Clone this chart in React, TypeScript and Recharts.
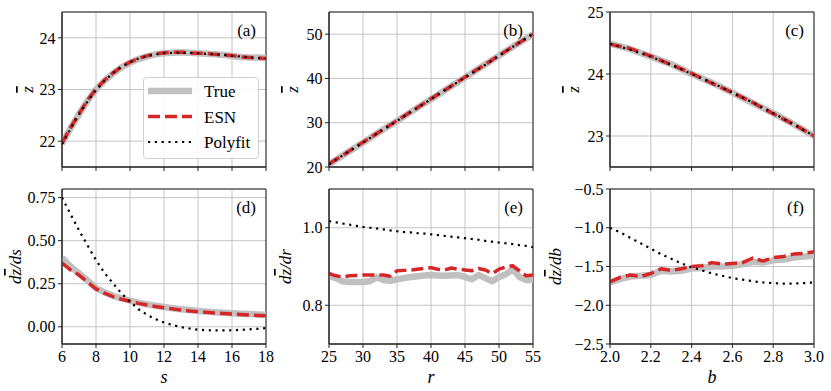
import { CartesianGrid, Legend, Line, LineChart, ReferenceArea, XAxis, YAxis } from 'recharts';

// x values of each parameter sweep
const S_VALUES = [6, 6.5, 7, 7.5, 8, 8.5, 9, 9.5, 10, 10.5, 11, 11.5, 12, 12.5, 13, 13.5, 14, 14.5, 15, 15.5, 16, 16.5, 17, 17.5, 18];
const R_COARSE = [25, 27.5, 30, 32.5, 35, 37.5, 40, 42.5, 45, 47.5, 50, 52.5, 55];
const B_COARSE = [2.0, 2.1, 2.2, 2.3, 2.4, 2.5, 2.6, 2.7, 2.8, 2.9, 3.0];
const R_FINE = [25, 26, 27, 28, 29, 30, 31, 32, 33, 34, 35, 36, 37, 38, 39, 40, 41, 42, 43, 44, 45, 46, 47, 48, 49, 50, 51, 52, 53, 54, 55];
const B_FINE = [2.0, 2.05, 2.1, 2.15, 2.2, 2.25, 2.3, 2.35, 2.4, 2.45, 2.5, 2.55, 2.6, 2.65, 2.7, 2.75, 2.8, 2.85, 2.9, 2.95, 3.0];

// (a) mean z vs s
const A_TRUE = [21.95, 22.25, 22.52, 22.78, 23.0, 23.17, 23.31, 23.43, 23.52, 23.59, 23.64, 23.68, 23.7, 23.71, 23.72, 23.71, 23.7, 23.69, 23.68, 23.67, 23.65, 23.63, 23.62, 23.62, 23.61];
const A_ESN = [21.96, 22.26, 22.53, 22.79, 23.01, 23.18, 23.32, 23.44, 23.53, 23.6, 23.65, 23.69, 23.71, 23.72, 23.72, 23.71, 23.7, 23.7, 23.68, 23.67, 23.66, 23.63, 23.62, 23.61, 23.6];
const A_POLY = [21.94, 22.24, 22.52, 22.77, 22.99, 23.17, 23.32, 23.44, 23.53, 23.6, 23.65, 23.68, 23.7, 23.71, 23.71, 23.71, 23.7, 23.69, 23.68, 23.67, 23.65, 23.64, 23.62, 23.61, 23.6];

// (b) mean z vs r
const B_TRUE = [20.6, 23.1, 25.5, 28.0, 30.4, 32.9, 35.3, 37.8, 40.2, 42.7, 45.1, 47.6, 50.0];
const B_ESN = [20.7, 23.1, 25.6, 28.0, 30.5, 32.9, 35.4, 37.8, 40.3, 42.7, 45.2, 47.6, 50.0];
const B_POLY = [20.6, 23.1, 25.5, 28.0, 30.4, 32.9, 35.3, 37.8, 40.2, 42.6, 45.1, 47.6, 50.1];

// (c) mean z vs b
const C_TRUE = [24.49, 24.4, 24.28, 24.16, 24.0, 23.86, 23.7, 23.53, 23.37, 23.19, 23.0];
const C_ESN = [24.48, 24.41, 24.29, 24.15, 24.01, 23.85, 23.7, 23.54, 23.36, 23.19, 23.0];
const C_POLY = [24.49, 24.39, 24.28, 24.15, 24.0, 23.86, 23.7, 23.54, 23.37, 23.19, 23.0];

// (d) dz/ds
const D_TRUE = [0.4, 0.35, 0.31, 0.27, 0.225, 0.2, 0.18, 0.165, 0.152, 0.14, 0.13, 0.122, 0.115, 0.108, 0.102, 0.097, 0.092, 0.088, 0.084, 0.081, 0.078, 0.076, 0.074, 0.072, 0.07];
const D_ESN = [0.37, 0.33, 0.3, 0.26, 0.22, 0.195, 0.175, 0.16, 0.148, 0.136, 0.127, 0.118, 0.11, 0.104, 0.098, 0.092, 0.088, 0.084, 0.08, 0.077, 0.074, 0.071, 0.068, 0.066, 0.064];
const D_POLY = [0.75, 0.655, 0.56, 0.473, 0.387, 0.313, 0.252, 0.194, 0.146, 0.102, 0.07, 0.044, 0.025, 0.01, -0.002, -0.01, -0.017, -0.02, -0.021, -0.021, -0.02, -0.018, -0.015, -0.012, -0.008];

// (e) dz/dr
const E_TRUE = [0.876, 0.87, 0.862, 0.86, 0.86, 0.86, 0.862, 0.872, 0.865, 0.863, 0.867, 0.87, 0.873, 0.875, 0.877, 0.878, 0.877, 0.876, 0.877, 0.878, 0.873, 0.867, 0.878, 0.87, 0.862, 0.873, 0.88, 0.893, 0.873, 0.865, 0.865];
const E_ESN = [0.882, 0.876, 0.873, 0.876, 0.877, 0.878, 0.878, 0.878, 0.878, 0.875, 0.889, 0.89, 0.891, 0.893, 0.895, 0.897, 0.893, 0.891, 0.896, 0.893, 0.891, 0.889, 0.895, 0.891, 0.882, 0.893, 0.899, 0.902, 0.889, 0.876, 0.878];
const E_POLY = [1.017, 1.014, 1.011, 1.008, 1.005, 1.002, 1.0, 0.998, 0.996, 0.993, 0.991, 0.989, 0.988, 0.986, 0.985, 0.983, 0.981, 0.979, 0.977, 0.975, 0.973, 0.971, 0.969, 0.966, 0.964, 0.962, 0.96, 0.958, 0.955, 0.953, 0.95];

// (f) dz/db
const F_TRUE = [-1.705, -1.66, -1.63, -1.62, -1.61, -1.555, -1.564, -1.555, -1.526, -1.52, -1.5, -1.5, -1.49, -1.47, -1.44, -1.45, -1.42, -1.41, -1.385, -1.37, -1.36];
const F_ESN = [-1.7, -1.64, -1.61, -1.63, -1.59, -1.53, -1.55, -1.53, -1.5, -1.49, -1.45, -1.47, -1.46, -1.45, -1.39, -1.43, -1.385, -1.37, -1.34, -1.33, -1.31];
const F_POLY = [-1.0, -1.06, -1.13, -1.2, -1.27, -1.34, -1.4, -1.46, -1.51, -1.55, -1.59, -1.62, -1.65, -1.67, -1.69, -1.705, -1.715, -1.72, -1.72, -1.715, -1.705];

const SERIES = [
  { key: 't', name: 'True', color: '#c0c0c0', width: 6.5, dash: undefined },
  { key: 'e', name: 'ESN', color: '#d62728', width: 3.5, dash: '12 5' },
  { key: 'p', name: 'Polyfit', color: '#000000', width: 2.2, dash: '2.2 4.6' },
];

const FONT = '"Liberation Serif", "DejaVu Serif", serif';
const PLOT_W = 204;
const PLOT_H = 155;
const AXIS_W = 76;
const PAD = 12;
const AXIS_H = 45;

type Row = { x: number; t: number; e: number; p: number };
const toRows = (x: number[], t: number[], e: number[], p: number[]): Row[] =>
  x.map((v, i) => ({ x: v, t: t[i], e: e[i], p: p[i] }));

const fmt = (digits: number) => (v: number) => v.toFixed(digits).replace('-', '\u2212');
const blank = () => '';

const LegendBox = () => (
  <svg width={116} height={82} style={{ display: 'block' }}>
    <rect x={0.5} y={0.5} width={115} height={81} rx={3} fill="rgba(255,255,255,0.85)" stroke="#d0d0d0" />
    {SERIES.map((s, i) => {
      const cy = 14 + i * 25.5;
      return (
        <g key={s.key}>
          <line x1={5} x2={49} y1={cy} y2={cy} stroke={s.color} strokeWidth={s.width} strokeDasharray={s.dash} />
          <text x={61} y={cy + 6} fontSize={17} fill="#000" style={{ fontFamily: FONT }}>
            {s.name}
          </text>
        </g>
      );
    })}
  </svg>
);

// y title: z with an overbar, optionally as a derivative dz/dv
const yTitle = (wrt: string | undefined, dx: number) => (lp: any) => {
  const vb = lp.viewBox;
  const x = vb.x + dx;
  const y = vb.y + vb.height / 2;
  return (
    <text
      x={x}
      y={y}
      transform={`rotate(-90 ${x} ${y})`}
      textAnchor="middle"
      dominantBaseline="central"
      fontSize={17}
      fontStyle="italic"
      fill="#000"
      style={{ fontFamily: FONT }}
    >
      {wrt && <tspan>d</tspan>}
      <tspan style={{ textDecoration: 'overline' }}>z</tspan>
      {wrt && <tspan>/d{wrt}</tspan>}
    </text>
  );
};

type PanelProps = {
  left: number;
  top: number;
  data: Row[];
  xDomain: [number, number];
  xTicks: number[];
  xFmt: (v: number) => string;
  yDomain: [number, number];
  yTicks: number[];
  yFmt: (v: number) => string;
  yLabelX: number;
  xLabel?: string;
  tag: string;
  legend?: boolean;
};

const Panel = (p: PanelProps) => (
  <div style={{ position: 'absolute', left: p.left - AXIS_W, top: p.top - PAD, fontFamily: FONT }}>
    <LineChart
      width={AXIS_W + PLOT_W + PAD}
      height={PAD + PLOT_H + AXIS_H}
      data={p.data}
      margin={{ top: PAD, right: PAD, bottom: 0, left: 0 }}
    >
      <CartesianGrid stroke="#c4c4c4" strokeWidth={1} />
      <XAxis
        dataKey="x"
        type="number"
        domain={p.xDomain}
        ticks={p.xTicks}
        interval={0}
        allowDataOverflow
        height={AXIS_H}
        tickSize={4}
        tickMargin={3}
        stroke="#222"
        tick={{ fill: '#000', fontSize: 16, fontFamily: FONT }}
        tickFormatter={p.xLabel ? p.xFmt : blank}
        label={
          p.xLabel
            ? {
                value: p.xLabel,
                position: 'insideBottom',
                offset: 6,
                fontSize: 18,
                fill: '#000',
                style: { fontStyle: 'italic', fontFamily: FONT },
              }
            : undefined
        }
      />
      <YAxis
        type="number"
        domain={p.yDomain}
        ticks={p.yTicks}
        interval={0}
        allowDataOverflow
        width={AXIS_W}
        tickSize={4}
        tickMargin={2.5}
        stroke="#222"
        tick={{ fill: '#000', fontSize: 16, fontFamily: FONT }}
        tickFormatter={p.yFmt}
        label={{ content: yTitle(p.xLabel, p.yLabelX) }}
      />
      <ReferenceArea
        x1={p.xDomain[0]}
        x2={p.xDomain[1]}
        y1={p.yDomain[0]}
        y2={p.yDomain[1]}
        fill="none"
        stroke="#222"
        strokeWidth={1}
        label={{
          content: (lp: any) => {
            const vb = lp.viewBox;
            return (
              <text x={vb.x + vb.width - 10} y={vb.y + 24} textAnchor="end" fontSize={17} fill="#000" style={{ fontFamily: FONT }}>
                {p.tag}
              </text>
            );
          },
        }}
      />
      {SERIES.map((s) => (
        <Line
          key={s.key}
          dataKey={s.key}
          name={s.name}
          stroke={s.color}
          strokeWidth={s.width}
          strokeDasharray={s.dash}
          strokeLinejoin="round"
          dot={false}
          isAnimationActive={false}
        />
      ))}
      {p.legend && (
        <Legend
          layout="vertical"
          align="center"
          verticalAlign="middle"
          content={() => <LegendBox />}
          wrapperStyle={{ left: 157, top: 77, width: 116, height: 82 }}
        />
      )}
    </LineChart>
  </div>
);

export default function App() {
  return (
    <div
      style={{ position: 'fixed', left: 0, top: 0, width: 831, height: 391, background: '#fff', fontFamily: FONT, overflow: 'hidden' }}
    >
      <Panel
        left={62}
        top={12}
        data={toRows(S_VALUES, A_TRUE, A_ESN, A_POLY)}
        xDomain={[6, 18]}
        xTicks={[6, 8, 10, 12, 14, 16, 18]}
        xFmt={fmt(0)}
        yDomain={[21.5, 24.5]}
        yTicks={[22, 23, 24]}
        yFmt={fmt(0)}
        yLabelX={41}
        tag="(a)"
        legend
      />
      <Panel
        left={329}
        top={12}
        data={toRows(R_COARSE, B_TRUE, B_ESN, B_POLY)}
        xDomain={[25, 55]}
        xTicks={[25, 30, 35, 40, 45, 50, 55]}
        xFmt={fmt(0)}
        yDomain={[20, 55]}
        yTicks={[20, 30, 40, 50]}
        yFmt={fmt(0)}
        yLabelX={39}
        tag="(b)"
      />
      <Panel
        left={610}
        top={12}
        data={toRows(B_COARSE, C_TRUE, C_ESN, C_POLY)}
        xDomain={[2, 3]}
        xTicks={[2, 2.2, 2.4, 2.6, 2.8, 3]}
        xFmt={fmt(1)}
        yDomain={[22.5, 25]}
        yTicks={[23, 24, 25]}
        yFmt={fmt(0)}
        yLabelX={39}
        tag="(c)"
      />
      <Panel
        left={62}
        top={189}
        data={toRows(S_VALUES, D_TRUE, D_ESN, D_POLY)}
        xDomain={[6, 18]}
        xTicks={[6, 8, 10, 12, 14, 16, 18]}
        xFmt={fmt(0)}
        yDomain={[-0.1, 0.8]}
        yTicks={[0, 0.25, 0.5, 0.75]}
        yFmt={fmt(2)}
        yLabelX={29}
        xLabel="s"
        tag="(d)"
      />
      <Panel
        left={329}
        top={189}
        data={toRows(R_FINE, E_TRUE, E_ESN, E_POLY)}
        xDomain={[25, 55]}
        xTicks={[25, 30, 35, 40, 45, 50, 55]}
        xFmt={fmt(0)}
        yDomain={[0.7, 1.1]}
        yTicks={[0.8, 1.0]}
        yFmt={fmt(1)}
        yLabelX={32}
        xLabel="r"
        tag="(e)"
      />
      <Panel
        left={610}
        top={189}
        data={toRows(B_FINE, F_TRUE, F_ESN, F_POLY)}
        xDomain={[2, 3]}
        xTicks={[2, 2.2, 2.4, 2.6, 2.8, 3]}
        xFmt={fmt(1)}
        yDomain={[-2.5, -0.5]}
        yTicks={[-2.5, -2, -1.5, -1, -0.5]}
        yFmt={fmt(1)}
        yLabelX={21}
        xLabel="b"
        tag="(f)"
      />
    </div>
  );
}
